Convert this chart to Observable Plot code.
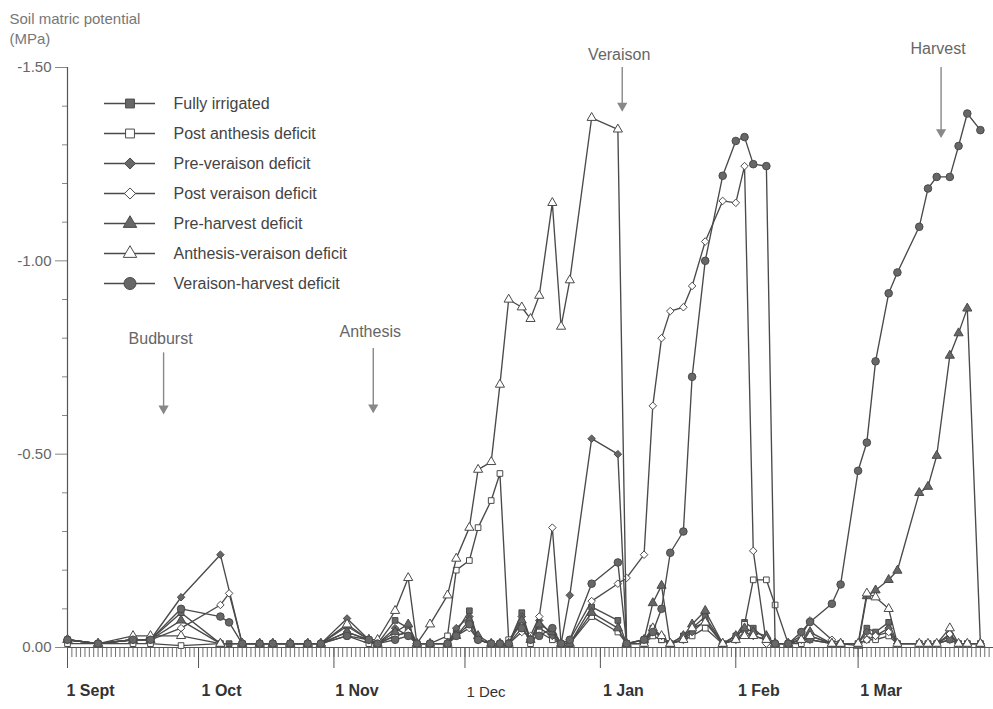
<!DOCTYPE html>
<html>
<head>
<meta charset="utf-8">
<script src="https://cdn.jsdelivr.net/npm/d3@7"></script>
<script src="https://cdn.jsdelivr.net/npm/@observablehq/plot@0.6"></script>
<style>
  body { margin: 0; background: #fff; }
  #wrap { position: relative; width: 993px; height: 709px; }
  #legend { position: absolute; left: 100px; top: 87px; }
</style>
</head>
<body>
<div id="wrap"><div id="legend"></div></div>
<script>
// ---- data (days after 1 September; soil matric potential in MPa) ----
const sampleDay = [0, 7, 15, 19, 26, 35, 37, 40, 44, 47, 51, 55, 58, 64, 69, 71, 75, 78, 80, 83,
  87, 89, 92, 94, 97, 99, 101, 104, 106, 108, 111, 113, 115, 120, 126, 128, 132, 134, 136, 138,
  141, 143, 146, 150, 153, 155, 157, 160, 162, 165, 168, 170, 175, 177, 181, 183, 185, 188, 190, 195,
  197, 199, 202, 204, 206, 209];

const fullyIrrigated = [-0.02, -0.01, -0.02, -0.02, -0.09, -0.01, -0.01, -0.01, -0.01, -0.01,
  -0.01, -0.01, -0.01, -0.055, -0.02, -0.01, -0.07, -0.05, -0.01, -0.01,
  -0.01, -0.04, -0.095, -0.02, -0.01, -0.01, -0.01, -0.09, -0.02, -0.05,
  -0.03, -0.01, -0.01, -0.105, -0.07, -0.01, -0.02, -0.05, -0.02, -0.01,
  -0.03, -0.05, -0.08, -0.01, -0.03, -0.065, -0.05, -0.02, -0.01, -0.01,
  -0.02, -0.03, -0.01, -0.01, -0.01, -0.05, -0.04, -0.065, -0.01, -0.01,
  -0.01, -0.01, -0.03, -0.01, -0.01, -0.01];

const postAnthesis = [-0.01, -0.01, -0.01, -0.01, -0.005, -0.01, null, -0.01, -0.01, -0.01,
  -0.01, -0.01, -0.01, -0.03, -0.01, -0.01, -0.03, -0.04, -0.01, -0.01,
  -0.03, -0.20, -0.225, -0.31, -0.38, -0.45, -0.02, -0.06, -0.01, -0.04,
  -0.02, -0.01, -0.01, -0.08, -0.04, -0.01, -0.01, -0.03, -0.02, -0.01,
  -0.02, -0.03, -0.05, -0.01, -0.02, -0.06, -0.175, -0.175, -0.11, -0.01,
  -0.01, -0.02, -0.01, -0.01, -0.01, -0.02, -0.02, -0.03, -0.01, -0.01,
  -0.01, -0.01, -0.02, -0.01, -0.01, -0.01];

const preVeraison = [-0.02, -0.01, -0.02, -0.02, -0.13, -0.24, null, -0.01, -0.01, -0.01,
  -0.01, -0.01, -0.01, -0.075, -0.02, -0.01, -0.05, -0.03, -0.01, -0.01,
  -0.01, -0.05, -0.08, -0.02, -0.01, -0.01, -0.01, -0.08, -0.02, -0.07,
  -0.03, -0.01, -0.135, -0.54, -0.50, -0.01, -0.01, -0.04, -0.03, -0.01,
  -0.02, -0.04, -0.07, -0.01, -0.02, -0.04, -0.03, -0.02, -0.01, -0.01,
  -0.02, -0.02, -0.01, -0.01, -0.01, -0.04, -0.03, -0.05, -0.01, -0.01,
  -0.01, -0.01, -0.02, -0.01, -0.01, -0.01];

const postVeraison = [-0.02, -0.01, -0.02, -0.02, -0.05, -0.11, -0.14, -0.01, -0.01, -0.01,
  -0.01, -0.01, -0.01, -0.04, -0.02, -0.01, -0.03, -0.04, -0.01, -0.01,
  -0.01, -0.03, -0.05, -0.02, -0.01, -0.01, -0.01, -0.04, -0.03, -0.08,
  -0.31, -0.01, -0.02, -0.12, -0.165, -0.18, -0.24, -0.625, -0.80, -0.87,
  -0.88, -0.935, -1.05, -1.155, -1.15, -1.245, -0.25, -0.01, -0.01, -0.01,
  -0.03, -0.07, -0.02, -0.01, -0.01, -0.02, -0.03, -0.04, -0.01, -0.01,
  -0.01, -0.01, -0.035, -0.01, -0.01, -0.01];

const preHarvest = [-0.02, -0.01, -0.02, -0.02, -0.07, -0.01, null, -0.01, -0.01, -0.01,
  -0.01, -0.01, -0.01, -0.04, -0.02, -0.01, -0.04, -0.06, -0.01, -0.01,
  -0.01, -0.03, -0.07, -0.03, -0.01, -0.01, -0.01, -0.07, -0.02, -0.06,
  -0.04, -0.01, -0.01, -0.09, -0.05, -0.01, -0.02, -0.115, -0.16, -0.01,
  -0.03, -0.06, -0.095, -0.01, -0.03, -0.05, -0.04, -0.03, -0.01, -0.01,
  -0.02, -0.04, -0.01, -0.01, -0.005, -0.133, -0.148, -0.175, -0.199, -0.40,
  -0.416, -0.496, -0.755, -0.813, -0.877, -0.01];

const anthesisVeraison = [-0.02, -0.01, -0.03, -0.03, -0.03, -0.01, null, -0.01, -0.01, -0.01,
  -0.01, -0.01, -0.01, -0.06, -0.02, -0.02, -0.095, -0.18, -0.01, -0.06,
  -0.135, -0.23, -0.31, -0.46, -0.48, -0.68, -0.90, -0.88, -0.85, -0.91,
  -1.15, -0.83, -0.95, -1.37, -1.34, -0.01, -0.01, -0.05, -0.03, -0.01,
  -0.02, -0.05, -0.065, -0.01, -0.02, -0.03, -0.03, -0.02, -0.01, -0.01,
  -0.02, -0.03, -0.01, -0.01, -0.01, -0.14, -0.13, -0.10, -0.01, -0.01,
  -0.01, -0.01, -0.05, -0.01, -0.01, -0.01];

const veraisonHarvest = [-0.02, -0.01, -0.02, -0.02, -0.10, -0.08, -0.065, -0.01, -0.01, -0.01,
  -0.01, -0.01, -0.01, -0.03, -0.02, -0.01, -0.02, -0.03, -0.01, -0.01,
  -0.01, -0.03, -0.06, -0.02, -0.01, -0.01, -0.01, -0.05, -0.02, -0.03,
  -0.05, -0.01, -0.02, -0.165, -0.22, -0.01, -0.02, -0.04, -0.10, -0.245,
  -0.30, -0.70, -1.00, -1.22, -1.31, -1.32, -1.25, -1.245, -0.01, -0.01,
  -0.04, -0.066, -0.113, -0.163, -0.457, -0.53, -0.74, -0.916, -0.97, -1.088,
  -1.187, -1.217, -1.217, -1.297, -1.381, -1.338];

const seriesNames = ["Fully irrigated", "Post anthesis deficit", "Pre-veraison deficit",
  "Post veraison deficit", "Pre-harvest deficit", "Anthesis-veraison deficit", "Veraison-harvest deficit"];
const seriesValues = [fullyIrrigated, postAnthesis, preVeraison, postVeraison, preHarvest,
  anthesisVeraison, veraisonHarvest];

const monthTickDays = [0, 30, 61, 91, 122, 153, 181];
const monthTickLabels = ["1 Sept", "1 Oct", "1 Nov", "1 Dec", "1 Jan", "1 Feb", "1 Mar"];
const yTickValues = [0, -0.5, -1, -1.5];
const yMinorTicks = [-0.1, -0.2, -0.3, -0.4, -0.6, -0.7, -0.8, -0.9, -1.1, -1.2, -1.3, -1.4];

const eventNames = ["Budburst", "Anthesis", "Veraison", "Harvest"];
const eventDays = [22, 70, 127, 200];

// ---- annotation layout & styles ----
const eventArrowTop = [-0.762, -0.773, -1.5, -1.5];
const eventArrowTip = [-0.605, -0.608, -1.388, -1.32];
const eventLabelGap = [9, 12, 8, 14];
const seriesStyle = {
  "Fully irrigated": {symbol: "square", filled: true, r: 3.2, lr: 5},
  "Post anthesis deficit": {symbol: "square", filled: false, r: 3.2, lr: 5},
  "Pre-veraison deficit": {symbol: "diamond2", filled: true, r: 3.4, lr: 5},
  "Post veraison deficit": {symbol: "diamond2", filled: false, r: 3.4, lr: 5},
  "Pre-harvest deficit": {symbol: "triangle", filled: true, r: 3.4, lr: 5},
  "Anthesis-veraison deficit": {symbol: "triangle", filled: false, r: 3.4, lr: 5},
  "Veraison-harvest deficit": {symbol: "circle", filled: true, r: 3.8, lr: 6}
};
const LINE = "#4a4a4a", FILL = "#676767", FONT = "'Liberation Sans', Arial, sans-serif";

// ---- build tables ----
const start = new Date(Date.UTC(1998, 8, 1));
const toDate = d => d3.utcDay.offset(start, d);
const rows = [];
seriesNames.forEach((name, i) => sampleDay.forEach((d, j) => {
  const v = seriesValues[i][j];
  if (v != null) rows.push({series: name, date: toDate(d), value: v});
}));
const monthTicks = monthTickDays.map((d, i) => ({date: toDate(d), label: monthTickLabels[i]}));
const events = eventNames.map((n, i) => ({name: n, date: toDate(eventDays[i]),
  top: eventArrowTop[i], tip: eventArrowTip[i], gap: eventLabelGap[i]}));

const seriesMarks = seriesNames.flatMap(name => {
  const s = seriesStyle[name];
  const data = rows.filter(r => r.series === name);
  return [
    Plot.line(data, {x: "date", y: "value", stroke: LINE, strokeWidth: 1.35}),
    Plot.dot(data, {x: "date", y: "value", symbol: s.symbol, r: s.r,
      fill: s.filled ? FILL : "white", stroke: LINE, strokeWidth: 1})
  ];
});

const chart = Plot.plot({
  width: 993, height: 709,
  marginLeft: 67, marginRight: 0, marginTop: 67, marginBottom: 62,
  style: {fontFamily: FONT, background: "white", overflow: "visible"},
  x: {type: "utc", domain: [start, toDate(212)]},
  y: {domain: [0, -1.5]},
  marks: [
    Plot.axisX({ticks: d3.utcDay, tickSize: 10, tickFormat: () => "", stroke: "#707070", strokeWidth: 1, label: null}),
    Plot.axisX({ticks: monthTicks.map(m => m.date), tickSize: 21, tickFormat: () => "", stroke: "#555", label: null}),
    Plot.text(monthTicks.filter(m => m.label !== "1 Dec"), {x: "date", text: "label", frameAnchor: "bottom",
      dy: 48, dx: 23, fontSize: 16, fontWeight: "bold", fill: "#333"}),
    Plot.text(monthTicks.filter(m => m.label === "1 Dec"), {x: "date", text: "label", frameAnchor: "bottom",
      dy: 49, dx: 21, fontSize: 15, fill: "#333"}),
    Plot.axisY({ticks: yMinorTicks, tickSize: 5, tickFormat: () => "", stroke: "#888", label: null}),
    Plot.axisY({ticks: yTickValues, tickSize: 12, tickPadding: 4, tickFormat: d => d.toFixed(2),
      fontSize: 15, fill: "#666", stroke: "#888", label: null}),
    Plot.ruleX([start], {stroke: "#555", strokeWidth: 1.2}),
    Plot.ruleY([0], {stroke: "#555", strokeWidth: 1.2}),
    Plot.text(["Soil matric potential\n(MPa)"], {frameAnchor: "top-left", dx: -58, dy: -58,
      textAnchor: "start", lineAnchor: "top", fontSize: 15, lineHeight: 1.35, fill: "#777"}),
    Plot.ruleX(events, {x: "date", y1: "top", y2: "tip", stroke: "#888", strokeWidth: 1.4}),
    Plot.dot(events, {x: "date", y: "tip", symbol: "triangle", rotate: 180, r: 3.8, fill: "#888", dy: -5}),
    ...events.map(e => Plot.text([e], {x: "date", y: "top", text: "name", lineAnchor: "bottom",
      dy: -e.gap, dx: -3, fontSize: 16, fill: "#666"})),
    ...seriesMarks
  ]
});
document.getElementById("wrap").prepend(chart);

// ---- legend ----
const legend = Plot.plot({
  width: 280, height: 212, margin: 0,
  style: {fontFamily: FONT, background: "transparent", overflow: "visible"},
  x: {domain: [0, 1], range: [4, 55], axis: null},
  y: {type: "point", domain: seriesNames, range: [15, 197], padding: 0, axis: null},
  marks: [
    Plot.ruleY(seriesNames, {y: d => d, x1: () => 0, x2: () => 1, stroke: LINE, strokeWidth: 1.4}),
    ...seriesNames.map(name => {
      const s = seriesStyle[name];
      return Plot.dot([name], {x: () => 0.5, y: d => d, symbol: s.symbol, r: s.lr,
        fill: s.filled ? FILL : "white", stroke: LINE, strokeWidth: 1});
    }),
    Plot.text(seriesNames, {x: () => 1, y: d => d, text: d => d, dx: 18, textAnchor: "start",
      fontSize: 16, fill: "#444"})
  ]
});
document.getElementById("legend").append(legend);
</script>
</body>
</html>
